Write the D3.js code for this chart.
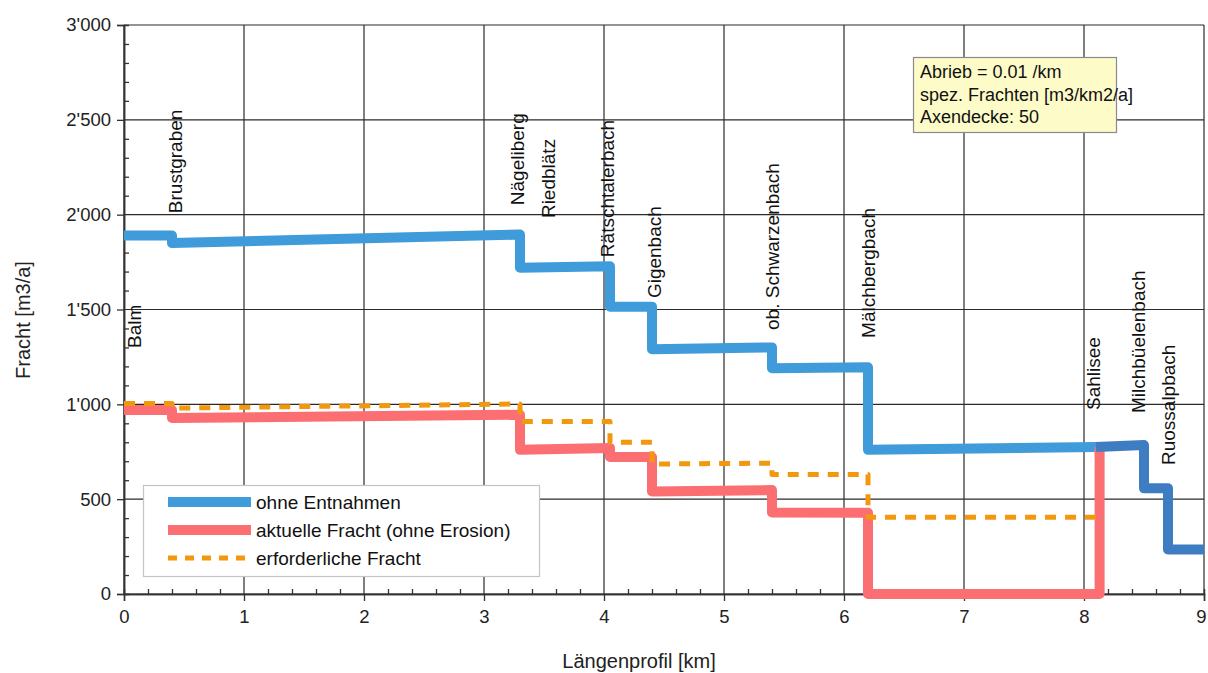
<!DOCTYPE html>
<html>
<head>
<meta charset="utf-8">
<script src="https://cdn.jsdelivr.net/npm/d3@7"></script>
<style>
  html, body { margin: 0; padding: 0; background: #fff; }
  svg { display: block; font-family: "Liberation Sans", Arial, sans-serif; }
</style>
</head>
<body>
<svg id="chart" width="1208" height="673"></svg>
<script>
// Sediment load along the longitudinal profile (km, m3/a)
const xTicks = [0, 1, 2, 3, 4, 5, 6, 7, 8, 9];
const yTicks = [0, 500, 1000, 1500, 2000, 2500, 3000];

// "ohne Entnahmen" – load without extractions
const ohneEntnahmen = [
  [0, 1890], [0.4, 1890], [0.4, 1850], [3.3, 1895], [3.3, 1720], [4.05, 1728],
  [4.05, 1515], [4.4, 1515], [4.4, 1290], [5.4, 1300], [5.4, 1190], [6.2, 1195],
  [6.2, 760], [8.1, 775]
];
// upper reach above Sahlisee
const ohneEntnahmenOben = [
  [8.1, 775], [8.5, 785], [8.5, 557], [8.7, 557], [8.7, 235], [9, 235]
];
// "aktuelle Fracht (ohne Erosion)"
const aktuelleFracht = [
  [0, 970], [0.4, 970], [0.4, 928], [3.3, 945], [3.3, 760], [4.05, 770],
  [4.05, 722], [4.4, 722], [4.4, 540], [5.4, 548], [5.4, 430], [6.2, 428],
  [6.2, 0], [8.13, 0], [8.13, 775]
];
// "erforderliche Fracht"
const erforderlicheFracht = [
  [0, 1005], [0.4, 1005], [0.4, 980], [3.3, 1002], [3.3, 910], [4.05, 910],
  [4.05, 800], [4.4, 800], [4.4, 685], [5.4, 690], [5.4, 630], [6.2, 630],
  [6.2, 405], [8.1, 405]
];

// tributaries / points along the profile: name, km, label foot level (m3/a)
const stationNames = ["Balm", "Brustgraben", "Nägeliberg", "Riedblätz", "Rätschtalerbach",
  "Gigenbach", "ob. Schwarzenbach", "Mälchbergbach", "Sahlisee", "Milchbüelenbach", "Ruossalpbach"];
const stationKm = [0.09, 0.43, 3.28, 3.54, 4.03, 4.42, 5.4, 6.2, 8.08, 8.45, 8.7];
const stationLabelLevel = [1297, 2008, 2050, 1982, 1776, 1560, 1392, 1350, 970, 954, 680];

const legendLabels = ["ohne Entnahmen", "aktuelle Fracht (ohne Erosion)", "erforderliche Fracht"];
const noteLines = ["Abrieb = 0.01 /km", "spez. Frachten [m3/km2/a]", "Axendecke: 50"];

const colors = { blue: "#3f9bd9", blueDark: "#3f7dc3", red: "#fb6f73", orange: "#f2980f", grid: "#2a2a2a" };

const svg = d3.select("#chart");
const margin = { left: 124, right: 4, top: 25, bottom: 79 };
const W = 1208, H = 673;

const x = d3.scaleLinear().domain([0, 9]).range([margin.left, W - margin.right]);
const y = d3.scaleLinear().domain([0, 3000]).range([H - margin.bottom, margin.top]);

const locale = d3.formatLocale({ decimal: ".", thousands: "'", grouping: [3], currency: ["", ""] });
const fmt = locale.format(",d");

// grid
const grid = svg.append("g");
grid.selectAll("line.v").data(xTicks).join("line")
  .attr("x1", d => x(d)).attr("x2", d => x(d))
  .attr("y1", y(0)).attr("y2", y(3000))
  .attr("stroke", colors.grid).attr("stroke-width", 1.2);
grid.selectAll("line.h").data(yTicks).join("line")
  .attr("x1", x(0)).attr("x2", x(9))
  .attr("y1", d => y(d)).attr("y2", d => y(d))
  .attr("stroke", colors.grid).attr("stroke-width", 1.2);

// axes: major ticks outward, minor ticks inward
const yAxis = svg.append("g").attr("transform", `translate(${x(0)},0)`)
  .call(d3.axisLeft(y).tickValues(yTicks).tickFormat(fmt).tickSize(7).tickPadding(6));
const yMinor = svg.append("g").attr("transform", `translate(${x(0)},0)`)
  .call(d3.axisRight(y).tickValues(d3.range(0, 3001, 100).filter(v => v % 500)).tickSize(5).tickFormat(""));
const xAxis = svg.append("g").attr("transform", `translate(0,${y(0)})`)
  .call(d3.axisBottom(x).tickValues(xTicks).tickFormat(d3.format("d")).tickSize(7).tickPadding(9));
const xMinor = svg.append("g").attr("transform", `translate(0,${y(0)})`)
  .call(d3.axisTop(x).tickValues(d3.range(0, 45).map(i => i * 0.2).filter((v, i) => i % 5)).tickSize(5).tickFormat(""));

[yAxis, yMinor, xAxis, xMinor].forEach(g => {
  g.select(".domain").attr("stroke", "#333").attr("stroke-width", 1.5);
  g.selectAll(".tick line").attr("stroke", "#333").attr("stroke-width", 1.3);
  g.selectAll(".tick text").attr("font-size", 18.5).attr("fill", "#222")
    .attr("font-family", "'Liberation Sans', Arial, sans-serif");
});
// keep the last x label inside the page edge
xAxis.selectAll(".tick text").filter(d => d === 9).attr("dx", -3);

// axis titles
svg.append("text").attr("x", 639).attr("y", 668).attr("text-anchor", "middle")
  .attr("font-size", 20).attr("fill", "#222").text("Längenprofil [km]");
svg.append("text").attr("transform", "translate(30,320) rotate(-90)").attr("text-anchor", "middle")
  .attr("font-size", 20).attr("fill", "#222").text("Fracht [m3/a]");

// series
const line = d3.line().x(d => x(d[0])).y(d => y(d[1]));
const series = svg.append("g").attr("fill", "none").attr("stroke-linejoin", "round");
series.append("path").attr("d", line(ohneEntnahmen)).attr("stroke", colors.blue).attr("stroke-width", 10);
series.append("path").attr("d", line(aktuelleFracht)).attr("stroke", colors.red).attr("stroke-width", 10);
series.append("path").attr("d", line(ohneEntnahmenOben)).attr("stroke", colors.blueDark).attr("stroke-width", 10);
series.append("path").attr("d", line(erforderlicheFracht)).attr("stroke", colors.orange)
  .attr("stroke-width", 5).attr("stroke-dasharray", "11 9");

// station labels, rotated, reading upward
svg.append("g").selectAll("text").data(stationNames).join("text")
  .attr("transform", (d, i) => `translate(${x(stationKm[i])},${y(stationLabelLevel[i])}) rotate(-90)`)
  .attr("dy", "0.35em").attr("font-size", 19).attr("fill", "#111")
  .text(d => d);

// legend
const lg = svg.append("g");
lg.append("rect").attr("x", 143.5).attr("y", 485.5).attr("width", 396).attr("height", 91)
  .attr("fill", "#fff").attr("stroke", "#c4c4c4").attr("stroke-width", 1.2);
const legendStyles = [
  { c: colors.blue, w: 10, dash: null },
  { c: colors.red, w: 10, dash: null },
  { c: colors.orange, w: 5, dash: "9 8" }
];
legendLabels.forEach((t, i) => {
  const yy = 502 + i * 28;
  lg.append("line").attr("x1", 168).attr("x2", 251).attr("y1", yy).attr("y2", yy)
    .attr("stroke", legendStyles[i].c).attr("stroke-width", legendStyles[i].w)
    .attr("stroke-dasharray", legendStyles[i].dash);
  lg.append("text").attr("x", 256).attr("y", yy).attr("dy", "0.35em")
    .attr("font-size", 19).attr("fill", "#111").text(t);
});

// parameter note
const note = svg.append("g");
note.append("rect").attr("x", 913.5).attr("y", 57.5).attr("width", 203).attr("height", 75)
  .attr("fill", "#fdfbc8").attr("stroke", "#8a8a8a").attr("stroke-width", 1.2);
noteLines.forEach((t, i) => {
  note.append("text").attr("x", 920).attr("y", 78 + i * 22.5)
    .attr("font-size", 18).attr("fill", "#111").text(t);
});
</script>
</body>
</html>
